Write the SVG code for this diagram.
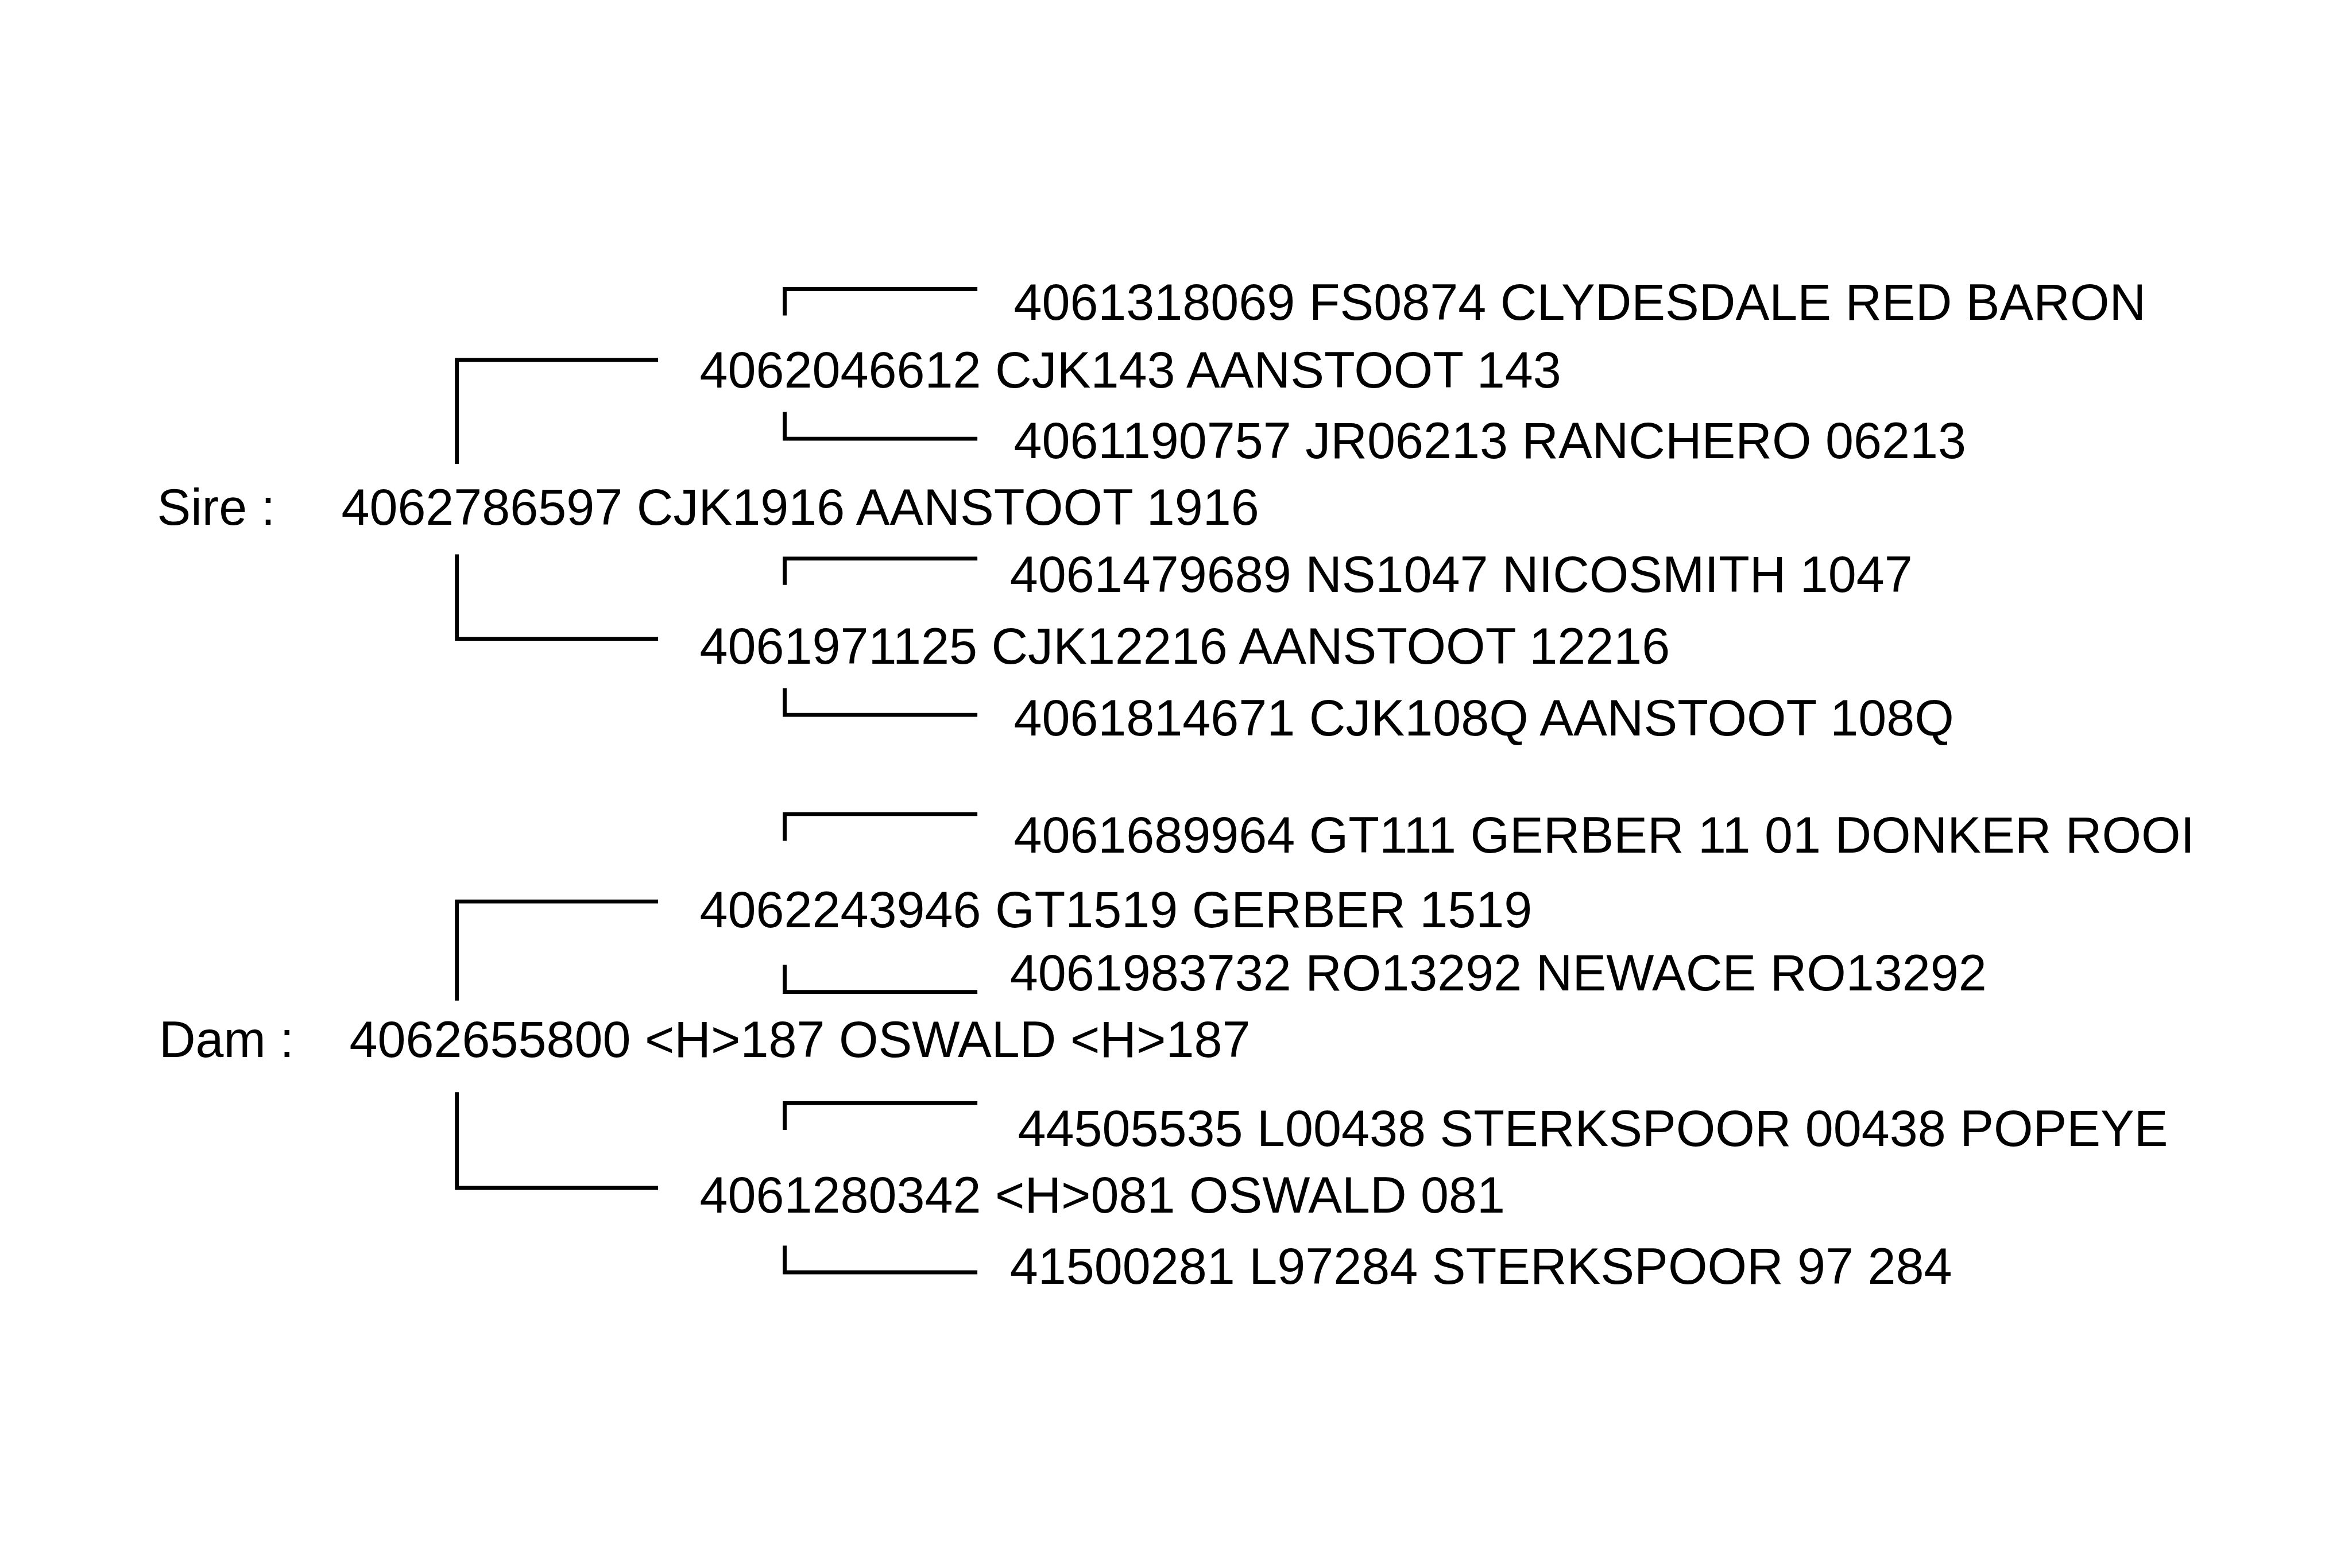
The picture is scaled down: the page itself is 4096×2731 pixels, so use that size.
<svg xmlns="http://www.w3.org/2000/svg" width="4096" height="2731" viewBox="0 0 4096 2731">
<style>
text{font-family:"Liberation Sans",Arial,sans-serif;font-size:88.1px;fill:#000}
.c{fill:none;stroke:#000;stroke-width:6.8;stroke-linecap:butt;stroke-linejoin:miter}
</style>
<rect width="4096" height="2731" fill="#fff"/>
<g id="connectors">
<path class="c" d="M795.6 808 V626.9 H1146.1"/>
<path class="c" d="M795.6 965.6 V1112.6 H1146.1"/>
<path class="c" d="M795.6 1742.8 V1570.1 H1146.1"/>
<path class="c" d="M795.6 1902.3 V2069 H1146.1"/>
<path class="c" d="M1366.6 549.4 V503.5 H1702.1"/>
<path class="c" d="M1366.6 717.5 V764.1 H1702.1"/>
<path class="c" d="M1366.6 1018.7 V972.8 H1702.1"/>
<path class="c" d="M1366.6 1198.6 V1245.2 H1702.1"/>
<path class="c" d="M1366.6 1464.4 V1417.8 H1702.1"/>
<path class="c" d="M1366.6 1680.4 V1727.7 H1702.1"/>
<path class="c" d="M1366.6 1967.9 V1921.3 H1702.1"/>
<path class="c" d="M1366.6 2169.4 V2216 H1702.1"/>
</g>
<g id="sire-label"><text x="273.5" y="914.4">Sire :</text></g>
<g id="sire"><text x="594.4" y="914.4">4062786597 CJK1916 AANSTOOT 1916</text></g>
<g id="dam-label"><text x="277" y="1841.2">Dam :</text></g>
<g id="dam"><text x="608.5" y="1841.2">4062655800 &lt;H&gt;187 OSWALD &lt;H&gt;187</text></g>
<g id="ss"><text x="1218.6" y="674.8">4062046612 CJK143 AANSTOOT 143</text></g>
<g id="sd"><text x="1218.6" y="1155.9">4061971125 CJK12216 AANSTOOT 12216</text></g>
<g id="ds"><text x="1218.6" y="1614.8">4062243946 GT1519 GERBER 1519</text></g>
<g id="dd"><text x="1218.6" y="2111.7">4061280342 &lt;H&gt;081 OSWALD 081</text></g>
<g id="sss"><text x="1765.4" y="556.6">4061318069 FS0874 CLYDESDALE RED BARON</text></g>
<g id="ssd"><text x="1765.4" y="797.5">4061190757 JR06213 RANCHERO 06213</text></g>
<g id="sds"><text x="1758.8" y="1031.2">4061479689 NS1047 NICOSMITH 1047</text></g>
<g id="sdd"><text x="1765.4" y="1281.3">4061814671 CJK108Q AANSTOOT 108Q</text></g>
<g id="dss"><text x="1765.4" y="1484.8">4061689964 GT111 GERBER 11 01 DONKER ROOI</text></g>
<g id="dsd"><text x="1758.8" y="1725">4061983732 RO13292 NEWACE RO13292</text></g>
<g id="dds"><text x="1772.6" y="1995.5">44505535 L00438 STERKSPOOR 00438 POPEYE</text></g>
<g id="ddd"><text x="1758.8" y="2235.7">41500281 L97284 STERKSPOOR 97 284</text></g>
</svg>
